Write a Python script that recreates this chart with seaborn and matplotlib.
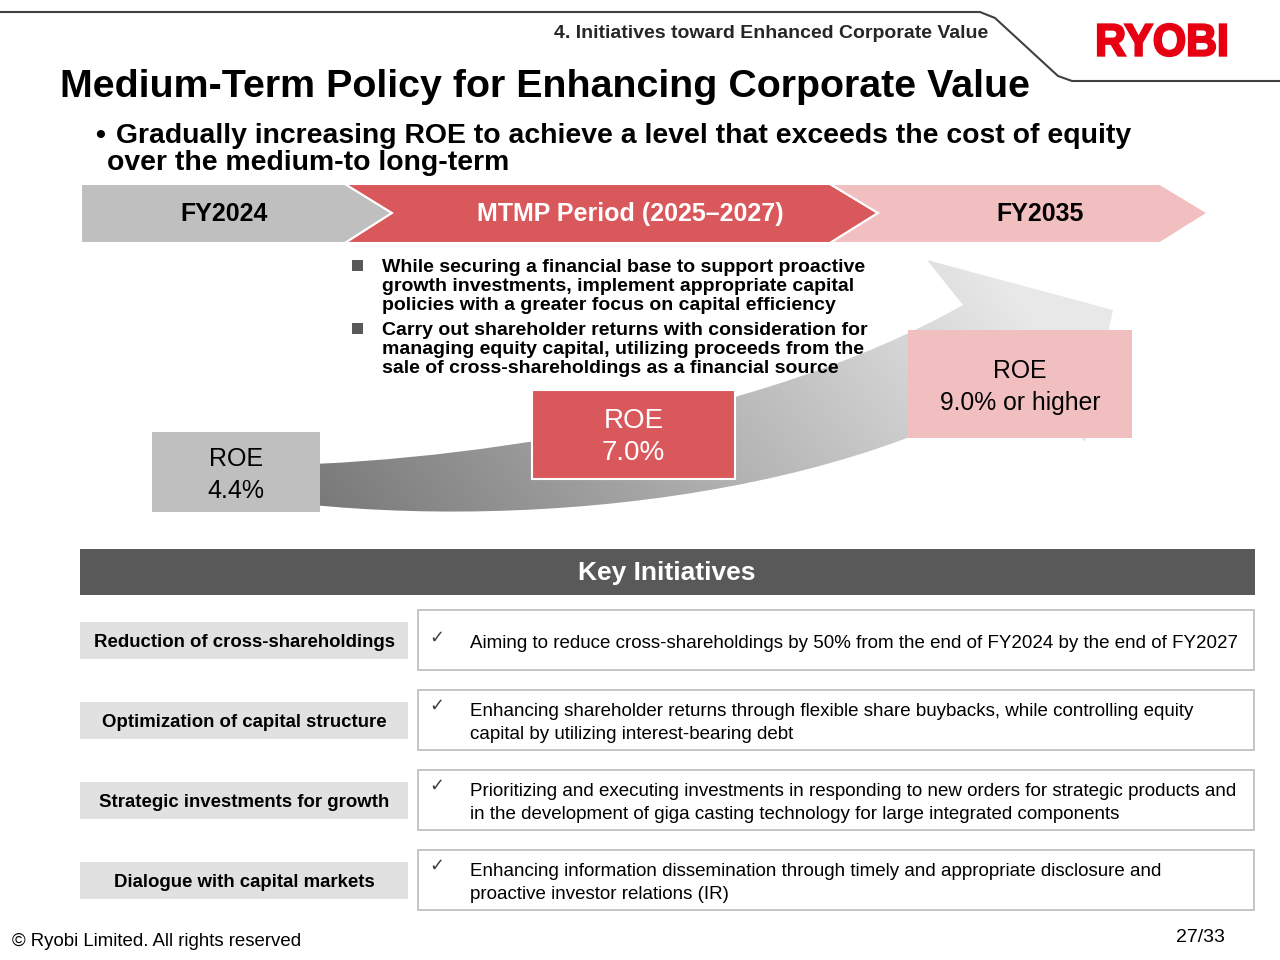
import numpy as np
import matplotlib
matplotlib.use("Agg")
import matplotlib.pyplot as plt
import seaborn as sns
from matplotlib.patches import Polygon, Rectangle, PathPatch
from matplotlib.path import Path
from matplotlib.textpath import TextPath
from matplotlib.font_manager import FontProperties
from matplotlib.transforms import Affine2D

# ---- slide content ----
section_title = "4. Initiatives toward Enhanced Corporate Value"
page_title = "Medium-Term Policy for Enhancing Corporate Value"
lead_lines = ["Gradually increasing ROE to achieve a level that exceeds the cost of equity",
              "over the medium-to long-term"]
periods = ["FY2024", "MTMP Period (2025–2027)", "FY2035"]
roe_values = ["4.4%", "7.0%", "9.0% or higher"]
policy_points = [
    ["While securing a financial base to support proactive",
     "growth investments, implement appropriate capital",
     "policies with a greater focus on capital efficiency"],
    ["Carry out shareholder returns with consideration for",
     "managing equity capital, utilizing proceeds from the",
     "sale of cross-shareholdings as a financial source"],
]
initiatives = ["Reduction of cross-shareholdings",
               "Optimization of capital structure",
               "Strategic investments for growth",
               "Dialogue with capital markets"]
initiative_details = [
    ["Aiming to reduce cross-shareholdings by 50% from the end of FY2024 by the end of FY2027"],
    ["Enhancing shareholder returns through flexible share buybacks, while controlling equity",
     "capital by utilizing interest-bearing debt"],
    ["Prioritizing and executing investments in responding to new orders for strategic products and",
     "in the development of giga casting technology for large integrated components"],
    ["Enhancing information dissemination through timely and appropriate disclosure and",
     "proactive investor relations (IR)"],
]
footer_left = "© Ryobi Limited. All rights reserved"
page_no = "27/33"

sns.set_theme(style="white")
plt.rcParams["font.family"] = ["Liberation Sans", "DejaVu Sans"]
plt.rcParams["text.color"] = "black"

period_colors = sns.color_palette(["#bfbfbf", "#d9585c", "#f2bfc1"])
text_colors = ["black", "white", "black"]

fig = plt.figure(figsize=(12.8, 9.6), dpi=100)
ax = fig.add_axes([0, 0, 1, 1])
ax.axis("off")

# header line and logo
ax.plot([0, 980, 995, 1058, 1072, 1280], [12, 12, 18, 76, 81, 81],
        color="#404040", lw=1.5, solid_capstyle="round", solid_joinstyle="round")
ax.text(988, 38, section_title, fontsize=14, fontweight="bold", color="#262626",
        ha="right", va="baseline")
tp = TextPath((0, 0), "RYOBI", prop=FontProperties(family="Liberation Sans", weight="bold"), size=10)
bb = tp.get_extents()
logo_tr = Affine2D().translate(-bb.x0, -bb.y0).scale(128 / bb.width, -32 / bb.height).translate(1098, 56)
ax.add_patch(PathPatch(logo_tr.transform_path(tp), facecolor="#e60012", edgecolor="#e60012", lw=1.6))

ax.text(60, 97, page_title, fontsize=28.4, fontweight="bold", va="baseline")
ax.text(95, 143, "•", fontsize=20.4, fontweight="bold", va="baseline")
ax.text(116, 143, lead_lines[0], fontsize=20.4, fontweight="bold", va="baseline")
ax.text(107, 170, lead_lines[1], fontsize=20.4, fontweight="bold", va="baseline")

# period chevrons
top, mid, bot = 184, 213, 243
shapes = [
    [(81, top), (345, top), (392, mid), (345, bot), (81, bot)],
    [(345, top), (830, top), (878, mid), (830, bot), (345, bot), (392, mid)],
    [(830, top), (1160, top), (1208, mid), (1160, bot), (830, bot), (878, mid)],
]
centers = [224, 630, 1040]
for i, (label, pts) in enumerate(zip(periods, shapes)):
    ax.add_patch(Polygon(pts, closed=True, facecolor=period_colors[i],
                         edgecolor="white", lw=1.5, zorder=2))
    ax.text(centers[i], mid + 8, label, fontsize=18, fontweight="bold",
            color=text_colors[i], ha="center", va="baseline", zorder=3)

# curved gradient arrow
verts = [(235, 466), (450, 466), (760, 420), (963, 305),
         (927, 260), (1113, 310), (1085, 442), (1030, 378),
         (830, 505), (480, 535), (235, 495), (235, 466)]
codes = [Path.MOVETO, Path.CURVE4, Path.CURVE4, Path.CURVE4,
         Path.LINETO, Path.LINETO, Path.LINETO, Path.LINETO,
         Path.CURVE4, Path.CURVE4, Path.CURVE4, Path.CLOSEPOLY]
arrow_patch = PathPatch(Path(verts, codes), facecolor="none", edgecolor="none")
ax.add_patch(arrow_patch)
gx, gy = np.meshgrid(np.linspace(220, 1120, 450), np.linspace(250, 530, 140))
t = np.clip(((gx - 300) * 0.8 - (gy - 520) * 0.6) / 704, 0, 1)
g = 0.46 + 0.45 * t
img = ax.imshow(np.dstack([g, g, g]), extent=(220, 1120, 530, 250), origin="upper",
                zorder=1, interpolation="bilinear")
img.set_clip_path(arrow_patch)

# policy bullets
line_y = [[272, 291, 310], [335, 354, 373]]
for lines, ys in zip(policy_points, line_y):
    ax.add_patch(Rectangle((352, ys[0] - 12), 11, 11, facecolor="#595959", edgecolor="none", zorder=3))
    for line, y in zip(lines, ys):
        ax.text(382, y, line, fontsize=14, fontweight="bold", va="baseline", zorder=4)

# ROE boxes
boxes = [(152, 432, 168, 80), (532, 390, 203, 89), (908, 330, 224, 108)]
box_edges = ["none", "white", "none"]
roe_sizes = [18, 20, 17.8]
for i, (x, y, w, h) in enumerate(boxes):
    ax.add_patch(Rectangle((x, y), w, h, facecolor=period_colors[i], edgecolor=box_edges[i],
                           lw=1.5, zorder=3))
    cx, cy = x + w / 2, y + h / 2
    ax.text(cx, cy - 15 + 9, "ROE", fontsize=roe_sizes[i], color=text_colors[i],
            ha="center", va="baseline", zorder=4)
    ax.text(cx, cy + 17 + 9, roe_values[i], fontsize=roe_sizes[i], color=text_colors[i],
            ha="center", va="baseline", zorder=4)

# key initiatives table
ax.add_patch(Rectangle((80, 549), 1175, 46, facecolor="#595959", edgecolor="none"))
ax.text(667, 580, "Key Initiatives", fontsize=19, fontweight="bold", color="white",
        ha="center", va="baseline")
row_centers = [640, 720, 800, 880]
for name, detail, cy in zip(initiatives, initiative_details, row_centers):
    ax.add_patch(Rectangle((80, cy - 18.5), 328, 37, facecolor="#e1e1e1", edgecolor="none"))
    ax.text(244, cy + 7, name, fontsize=13.4, fontweight="bold", ha="center", va="baseline")
    ax.add_patch(Rectangle((418, cy - 30), 836, 60, facecolor="white", edgecolor="#c0c0c0", lw=1.3))
    first = cy + 1 if len(detail) == 1 else cy - 11
    ax.text(437, first - 3, "✓", fontsize=13, color="#404040", ha="center", va="center",
            family="DejaVu Sans")
    for k, line in enumerate(detail):
        ax.text(470, first + 23 * k + 7, line, fontsize=13.5, ha="left", va="baseline")

ax.text(12, 946, footer_left, fontsize=13.4, ha="left", va="baseline")
ax.text(1225, 942, page_no, fontsize=14, ha="right", va="baseline")

ax.set_aspect("auto")
ax.set_xlim(0, 1280)
ax.set_ylim(960, 0)
fig.savefig("out.png", dpi=100, facecolor="white")
